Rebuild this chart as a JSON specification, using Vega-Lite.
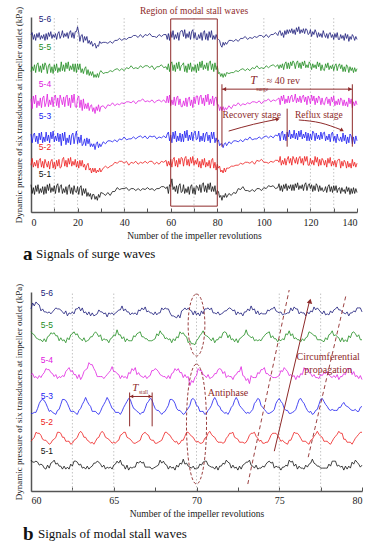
{
"$schema":"https://vega.github.io/schema/vega-lite/v6.json",
"background":"white",
"padding":{"left":14,"top":6,"right":0,"bottom":0},
"config":{"view":{"stroke":null},"font":"Liberation Serif","axis":{"grid":false,"labelFont":"Liberation Serif","titleFont":"Liberation Serif","labelColor":"#222","titleColor":"#222","titleFontWeight":"normal","domainColor":"#555","tickColor":"#555"}},
"datasets":{
"sa":[
{"x":0,"a":28,"b":48,"c":80,"d":116,"e":144,"f":182},
{"x":0.5,"a":19,"b":55,"c":71,"d":106,"e":149,"f":184},
{"x":1,"a":25,"b":46,"c":79,"d":119,"e":145,"f":177},
{"x":1.5,"a":18,"b":51,"c":81,"d":111,"e":151,"f":182},
{"x":2,"a":27,"b":47,"c":72,"d":120,"e":143,"f":176},
{"x":2.5,"a":21,"b":53,"c":78,"d":107,"e":151,"f":183},
{"x":3,"a":28,"b":45,"c":70,"d":114,"e":153,"f":179},
{"x":3.5,"a":19,"b":53,"c":81,"d":109,"e":144,"f":184},
{"x":4,"a":24,"b":55,"c":74,"d":117,"e":150,"f":177},
{"x":4.5,"a":20,"b":46,"c":82,"d":107,"e":143,"f":181},
{"x":5,"a":26,"b":52,"c":71,"d":117,"e":152,"f":178},
{"x":5.5,"a":18,"b":45,"c":77,"d":119,"e":146,"f":182},
{"x":6,"a":26,"b":54,"c":72,"d":108,"e":153,"f":176},
{"x":6.5,"a":19,"b":50,"c":82,"d":112,"e":150,"f":183},
{"x":7,"a":28,"b":46,"c":73,"d":121,"e":142,"f":177},
{"x":7.5,"a":22,"b":52,"c":79,"d":108,"e":150,"f":184},
{"x":8,"a":29,"b":44,"c":71,"d":115,"e":152,"f":180},
{"x":8.5,"a":20,"b":52,"c":82,"d":110,"e":143,"f":185},
{"x":9,"a":25,"b":54,"c":75,"d":118,"e":149,"f":178},
{"x":9.5,"a":21,"b":45,"c":83,"d":108,"e":142,"f":182},
{"x":10,"a":27,"b":51,"c":72,"d":118,"e":151,"f":179},
{"x":10.5,"a":19,"b":44,"c":78,"d":120,"e":145,"f":183},
{"x":11,"a":27,"b":53,"c":73,"d":109,"e":152,"f":177},
{"x":11.5,"a":29,"b":47,"c":81,"d":117,"e":143,"f":183},
{"x":12,"a":20,"b":54,"c":72,"d":107,"e":148,"f":185},
{"x":12.5,"a":26,"b":45,"c":80,"d":120,"e":144,"f":178},
{"x":13,"a":28,"b":46,"c":68,"d":115,"e":154,"f":181},
{"x":13.5,"a":19,"b":54,"c":81,"d":110,"e":145,"f":186},
{"x":14,"a":24,"b":56,"c":73,"d":118,"e":151,"f":179},
{"x":14.5,"a":20,"b":47,"c":82,"d":108,"e":144,"f":183},
{"x":15,"a":26,"b":53,"c":69,"d":118,"e":153,"f":180},
{"x":15.5,"a":18,"b":46,"c":76,"d":120,"e":147,"f":184},
{"x":16,"a":26,"b":55,"c":71,"d":109,"e":154,"f":178},
{"x":16.5,"a":28,"b":49,"c":79,"d":117,"e":145,"f":184},
{"x":17,"a":19,"b":56,"c":69,"d":107,"e":150,"f":186},
{"x":17.5,"a":25,"b":47,"c":79,"d":120,"e":146,"f":179},
{"x":18,"a":18,"b":52,"c":81,"d":112,"e":152,"f":184},
{"x":18.5,"a":27,"b":48,"c":70,"d":121,"e":144,"f":178},
{"x":19,"a":21,"b":54,"c":78,"d":108,"e":152,"f":185},
{"x":19.5,"a":20,"b":46,"c":83,"d":107,"e":143,"f":185},
{"x":20,"a":26,"b":52,"c":70,"d":117,"e":152,"f":190},
{"x":20.5,"a":18,"b":45,"c":77,"d":119,"e":146,"f":184},
{"x":21,"a":25,"b":53,"c":71,"d":107,"e":152,"f":175},
{"x":21.5,"a":27,"b":47,"c":79,"d":115,"e":143,"f":181},
{"x":22,"a":17,"b":53,"c":68,"d":104,"e":147,"f":182},
{"x":22.5,"a":24,"b":46,"c":70,"d":116,"e":142,"f":174},
{"x":23,"a":19,"b":49,"c":75,"d":106,"e":147,"f":180},
{"x":23.5,"a":24,"b":43,"c":68,"d":111,"e":149,"f":176},
{"x":24,"a":16,"b":48,"c":76,"d":106,"e":141,"f":180},
{"x":24.5,"a":20,"b":50,"c":70,"d":112,"e":146,"f":173},
{"x":25,"a":16,"b":43,"c":75,"d":104,"e":140,"f":176},
{"x":25.5,"a":19,"b":45,"c":67,"d":109,"e":144,"f":172},
{"x":26,"a":13,"b":40,"c":70,"d":110,"e":140,"f":175},
{"x":26.5,"a":18,"b":45,"c":67,"d":103,"e":144,"f":170},
{"x":27,"a":18,"b":41,"c":70,"d":107,"e":138,"f":172},
{"x":27.5,"a":13,"b":45,"c":64,"d":101,"e":141,"f":173},
{"x":28,"a":16,"b":40,"c":70,"d":108,"e":138,"f":168},
{"x":28.5,"a":12,"b":43,"c":72,"d":104,"e":142,"f":171},
{"x":29,"a":18,"b":41,"c":66,"d":110,"e":138,"f":170},
{"x":29.5,"a":15,"b":45,"c":70,"d":103,"e":143,"f":175},
{"x":30,"a":20,"b":41,"c":67,"d":108,"e":145,"f":173},
{"x":31,"a":19,"b":45,"c":72,"d":109,"e":142,"f":174},
{"x":32,"a":17,"b":47,"c":70,"d":106,"e":143,"f":174},
{"x":33,"a":20,"b":45,"c":73,"d":110,"e":143,"f":173},
{"x":34,"a":17,"b":47,"c":73,"d":109,"e":145,"f":175},
{"x":35,"a":21,"b":48,"c":72,"d":112,"e":144,"f":173},
{"x":36,"a":21,"b":51,"c":74,"d":109,"e":146,"f":176},
{"x":37,"a":25,"b":50,"c":72,"d":111,"e":147,"f":176},
{"x":38,"a":23,"b":52,"c":75,"d":110,"e":145,"f":178},
{"x":39,"a":24,"b":52,"c":74,"d":112,"e":147,"f":176},
{"x":40,"a":24,"b":50,"c":77,"d":111,"e":145,"f":178},
{"x":41,"a":25,"b":52,"c":74,"d":113,"e":148,"f":177},
{"x":42,"a":22,"b":48,"c":75,"d":113,"e":147,"f":179},
{"x":43,"a":24,"b":51,"c":75,"d":112,"e":150,"f":179},
{"x":44,"a":24,"b":50,"c":77,"d":114,"e":147,"f":181},
{"x":45,"a":22,"b":52,"c":75,"d":111,"e":148,"f":181},
{"x":46,"a":24,"b":49,"c":77,"d":114,"e":147,"f":179},
{"x":47,"a":22,"b":51,"c":78,"d":114,"e":150,"f":182},
{"x":48,"a":24,"b":50,"c":76,"d":116,"e":148,"f":179},
{"x":49,"a":23,"b":52,"c":78,"d":113,"e":150,"f":182},
{"x":50,"a":25,"b":50,"c":75,"d":114,"e":150,"f":181},
{"x":51,"a":23,"b":52,"c":78,"d":113,"e":148,"f":183},
{"x":52,"a":24,"b":52,"c":77,"d":115,"e":150,"f":180},
{"x":53,"a":22,"b":49,"c":78,"d":112,"e":146,"f":180},
{"x":54,"a":24,"b":51,"c":75,"d":114,"e":149,"f":179},
{"x":55,"a":24,"b":49,"c":77,"d":115,"e":149,"f":182},
{"x":56,"a":26,"b":52,"c":76,"d":113,"e":151,"f":180},
{"x":57,"a":26,"b":51,"c":78,"d":115,"e":148,"f":182},
{"x":58,"a":24,"b":53,"c":76,"d":112,"e":149,"f":182},
{"x":58.5,"a":26,"b":47,"c":80,"d":119,"e":146,"f":177},
{"x":59,"a":19,"b":52,"c":82,"d":112,"e":152,"f":183},
{"x":59.5,"a":28,"b":48,"c":73,"d":120,"e":144,"f":176},
{"x":60,"a":26,"b":54,"c":79,"d":109,"e":152,"f":185},
{"x":60.5,"a":34,"b":46,"c":71,"d":115,"e":154,"f":179},
{"x":61,"a":23,"b":54,"c":82,"d":110,"e":145,"f":186},
{"x":61.5,"a":26,"b":56,"c":75,"d":118,"e":151,"f":177},
{"x":62,"a":21,"b":47,"c":83,"d":109,"e":144,"f":182},
{"x":62.5,"a":27,"b":53,"c":72,"d":117,"e":153,"f":178},
{"x":63,"a":19,"b":46,"c":78,"d":119,"e":147,"f":184},
{"x":63.5,"a":27,"b":55,"c":73,"d":110,"e":154,"f":176},
{"x":64,"a":29,"b":49,"c":81,"d":116,"e":145,"f":184},
{"x":64.5,"a":20,"b":56,"c":72,"d":108,"e":150,"f":186},
{"x":65,"a":21,"b":55,"c":80,"d":108,"e":151,"f":186},
{"x":65.5,"a":28,"b":47,"c":72,"d":114,"e":153,"f":180},
{"x":66,"a":19,"b":55,"c":83,"d":109,"e":144,"f":187},
{"x":66.5,"a":24,"b":57,"c":76,"d":117,"e":150,"f":178},
{"x":67,"a":20,"b":48,"c":84,"d":108,"e":143,"f":183},
{"x":67.5,"a":26,"b":54,"c":73,"d":116,"e":152,"f":179},
{"x":68,"a":18,"b":47,"c":79,"d":118,"e":146,"f":185},
{"x":68.5,"a":26,"b":56,"c":74,"d":109,"e":153,"f":177},
{"x":69,"a":28,"b":50,"c":82,"d":115,"e":144,"f":185},
{"x":69.5,"a":19,"b":57,"c":73,"d":107,"e":149,"f":187},
{"x":70,"a":25,"b":48,"c":81,"d":118,"e":145,"f":178},
{"x":70.5,"a":18,"b":53,"c":83,"d":111,"e":151,"f":184},
{"x":71,"a":27,"b":49,"c":74,"d":119,"e":143,"f":177},
{"x":71.5,"a":26,"b":55,"c":75,"d":119,"e":152,"f":177},
{"x":72,"a":22,"b":46,"c":83,"d":110,"e":145,"f":182},
{"x":72.5,"a":28,"b":52,"c":72,"d":118,"e":154,"f":178},
{"x":73,"a":20,"b":45,"c":78,"d":120,"e":148,"f":184},
{"x":73.5,"a":28,"b":54,"c":73,"d":111,"e":155,"f":176},
{"x":74,"a":30,"b":48,"c":81,"d":117,"e":146,"f":184},
{"x":74.5,"a":21,"b":55,"c":72,"d":109,"e":151,"f":186},
{"x":75,"a":27,"b":46,"c":80,"d":120,"e":147,"f":177},
{"x":75.5,"a":20,"b":51,"c":82,"d":113,"e":153,"f":183},
{"x":76,"a":29,"b":47,"c":73,"d":121,"e":145,"f":176},
{"x":76.5,"a":23,"b":53,"c":79,"d":110,"e":153,"f":185},
{"x":77,"a":30,"b":45,"c":71,"d":116,"e":155,"f":179},
{"x":77.5,"a":21,"b":53,"c":82,"d":111,"e":146,"f":186},
{"x":78,"a":26,"b":55,"c":75,"d":119,"e":152,"f":177},
{"x":78.5,"a":21,"b":45,"c":82,"d":109,"e":144,"f":181},
{"x":79,"a":27,"b":51,"c":71,"d":117,"e":153,"f":177},
{"x":79.5,"a":18,"b":43,"c":76,"d":118,"e":146,"f":182},
{"x":80,"a":22,"b":49,"c":72,"d":110,"e":150,"f":178},
{"x":80.5,"a":21,"b":45,"c":74,"d":110,"e":142,"f":177},
{"x":81,"a":15,"b":47,"c":68,"d":104,"e":143,"f":176},
{"x":81.5,"a":17,"b":41,"c":70,"d":108,"e":139,"f":171},
{"x":82,"a":12,"b":43,"c":70,"d":104,"e":142,"f":169},
{"x":82.5,"a":17,"b":40,"c":66,"d":108,"e":138,"f":174},
{"x":83,"a":15,"b":45,"c":70,"d":104,"e":142,"f":171},
{"x":83.5,"a":19,"b":41,"c":71,"d":107,"e":139,"f":174},
{"x":84,"a":15,"b":45,"c":68,"d":105,"e":143,"f":172},
{"x":85,"a":19,"b":45,"c":72,"d":109,"e":142,"f":176},
{"x":86,"a":17,"b":47,"c":70,"d":106,"e":143,"f":176},
{"x":87,"a":20,"b":47,"c":73,"d":110,"e":143,"f":175},
{"x":88,"a":19,"b":48,"c":73,"d":109,"e":145,"f":177},
{"x":89,"a":24,"b":48,"c":72,"d":112,"e":144,"f":175},
{"x":90,"a":23,"b":50,"c":74,"d":109,"e":146,"f":178},
{"x":91,"a":26,"b":49,"c":72,"d":111,"e":147,"f":178},
{"x":92,"a":22,"b":51,"c":75,"d":110,"e":145,"f":180},
{"x":93,"a":22,"b":51,"c":74,"d":112,"e":147,"f":177},
{"x":94,"a":21,"b":50,"c":77,"d":111,"e":145,"f":179},
{"x":95,"a":23,"b":52,"c":74,"d":113,"e":148,"f":178},
{"x":96,"a":21,"b":49,"c":75,"d":113,"e":147,"f":180},
{"x":97,"a":24,"b":53,"c":75,"d":112,"e":150,"f":179},
{"x":98,"a":24,"b":52,"c":77,"d":114,"e":147,"f":181},
{"x":99,"a":22,"b":54,"c":75,"d":111,"e":148,"f":181},
{"x":100,"a":25,"b":51,"c":77,"d":114,"e":147,"f":179},
{"x":101,"a":24,"b":51,"c":78,"d":114,"e":150,"f":182},
{"x":102,"a":27,"b":50,"c":76,"d":116,"e":148,"f":179},
{"x":103,"a":26,"b":52,"c":78,"d":113,"e":150,"f":182},
{"x":104,"a":27,"b":51,"c":76,"d":115,"e":151,"f":182},
{"x":105,"a":24,"b":53,"c":79,"d":114,"e":149,"f":184},
{"x":106,"a":25,"b":53,"c":78,"d":116,"e":151,"f":181},
{"x":106.5,"a":29,"b":51,"c":81,"d":117,"e":147,"f":185},
{"x":107,"a":22,"b":57,"c":73,"d":110,"e":151,"f":186},
{"x":107.5,"a":27,"b":48,"c":81,"d":119,"e":148,"f":181},
{"x":108,"a":21,"b":53,"c":83,"d":114,"e":152,"f":184},
{"x":108.5,"a":28,"b":49,"c":74,"d":120,"e":146,"f":179},
{"x":109,"a":24,"b":55,"c":80,"d":111,"e":152,"f":186},
{"x":109.5,"a":29,"b":48,"c":73,"d":116,"e":154,"f":182},
{"x":110,"a":22,"b":54,"c":82,"d":112,"e":147,"f":187},
{"x":110.5,"a":27,"b":57,"c":77,"d":119,"e":153,"f":183},
{"x":111,"a":24,"b":50,"c":84,"d":112,"e":147,"f":187},
{"x":111.5,"a":28,"b":55,"c":75,"d":118,"e":154,"f":184},
{"x":112,"a":22,"b":48,"c":80,"d":120,"e":150,"f":188},
{"x":112.5,"a":28,"b":57,"c":76,"d":113,"e":155,"f":183},
{"x":113,"a":22,"b":54,"c":84,"d":115,"e":153,"f":187},
{"x":113.5,"a":29,"b":50,"c":75,"d":121,"e":147,"f":182},
{"x":114,"a":25,"b":56,"c":81,"d":112,"e":153,"f":189},
{"x":114.5,"a":30,"b":49,"c":74,"d":117,"e":155,"f":185},
{"x":115,"a":23,"b":55,"c":83,"d":113,"e":148,"f":190},
{"x":115.5,"a":27,"b":57,"c":77,"d":119,"e":153,"f":183},
{"x":116,"a":24,"b":50,"c":84,"d":112,"e":147,"f":187},
{"x":116.5,"a":28,"b":55,"c":75,"d":118,"e":154,"f":184},
{"x":117,"a":22,"b":48,"c":80,"d":120,"e":150,"f":188},
{"x":117.5,"a":28,"b":57,"c":76,"d":113,"e":155,"f":183},
{"x":118,"a":30,"b":52,"c":82,"d":118,"e":148,"f":188},
{"x":118.5,"a":22,"b":57,"c":73,"d":110,"e":151,"f":187},
{"x":119,"a":27,"b":48,"c":81,"d":119,"e":148,"f":182},
{"x":119.5,"a":29,"b":48,"c":73,"d":116,"e":154,"f":183},
{"x":120,"a":24,"b":55,"c":80,"d":111,"e":152,"f":187},
{"x":120.5,"a":28,"b":49,"c":74,"d":120,"e":146,"f":180},
{"x":121,"a":21,"b":53,"c":83,"d":114,"e":152,"f":185},
{"x":121.5,"a":27,"b":48,"c":81,"d":119,"e":148,"f":182},
{"x":122,"a":22,"b":57,"c":73,"d":110,"e":151,"f":187},
{"x":122.5,"a":29,"b":51,"c":81,"d":117,"e":147,"f":184},
{"x":123,"a":27,"b":56,"c":75,"d":112,"e":154,"f":179},
{"x":123.5,"a":21,"b":47,"c":79,"d":119,"e":149,"f":184},
{"x":124,"a":27,"b":54,"c":74,"d":117,"e":153,"f":180},
{"x":124.5,"a":22,"b":48,"c":82,"d":110,"e":145,"f":183},
{"x":125,"a":25,"b":55,"c":75,"d":117,"e":151,"f":179},
{"x":125.5,"a":21,"b":53,"c":81,"d":111,"e":146,"f":186},
{"x":126,"a":22,"b":48,"c":82,"d":110,"e":145,"f":182},
{"x":126.5,"a":26,"b":53,"c":73,"d":116,"e":152,"f":179},
{"x":127,"a":20,"b":46,"c":78,"d":118,"e":148,"f":183},
{"x":127.5,"a":26,"b":55,"c":74,"d":111,"e":153,"f":178},
{"x":128,"a":28,"b":50,"c":80,"d":116,"e":146,"f":183},
{"x":128.5,"a":21,"b":56,"c":72,"d":109,"e":150,"f":184},
{"x":129,"a":26,"b":47,"c":80,"d":118,"e":147,"f":179},
{"x":129.5,"a":20,"b":52,"c":82,"d":113,"e":151,"f":182},
{"x":130,"a":27,"b":48,"c":73,"d":119,"e":145,"f":177},
{"x":130.5,"a":22,"b":53,"c":78,"d":109,"e":150,"f":183},
{"x":131,"a":27,"b":46,"c":71,"d":114,"e":152,"f":179},
{"x":131.5,"a":20,"b":52,"c":80,"d":110,"e":145,"f":184},
{"x":132,"a":24,"b":54,"c":74,"d":116,"e":150,"f":177},
{"x":132.5,"a":25,"b":54,"c":73,"d":110,"e":152,"f":177},
{"x":133,"a":19,"b":45,"c":77,"d":117,"e":147,"f":182},
{"x":133.5,"a":25,"b":52,"c":72,"d":115,"e":151,"f":178},
{"x":134,"a":21,"b":47,"c":81,"d":109,"e":144,"f":181},
{"x":134.5,"a":23,"b":53,"c":73,"d":115,"e":149,"f":176},
{"x":135,"a":19,"b":51,"c":79,"d":109,"e":144,"f":183},
{"x":135.5,"a":26,"b":45,"c":70,"d":113,"e":151,"f":178},
{"x":136,"a":21,"b":52,"c":77,"d":108,"e":149,"f":182},
{"x":136.5,"a":25,"b":46,"c":71,"d":117,"e":143,"f":175},
{"x":137,"a":18,"b":50,"c":80,"d":111,"e":149,"f":180},
{"x":137.5,"a":24,"b":45,"c":78,"d":116,"e":145,"f":177},
{"x":138,"a":19,"b":54,"c":70,"d":107,"e":148,"f":182},
{"x":138.5,"a":25,"b":47,"c":77,"d":113,"e":143,"f":180},
{"x":139,"a":19,"b":51,"c":70,"d":109,"e":148,"f":176},
{"x":139.5,"a":24,"b":46,"c":78,"d":114,"e":144,"f":180},
{"x":140,"a":20,"b":50,"c":73,"d":110,"e":147,"f":177}
],
"sb":[
{"x":60.0,"a":31,"b":50,"c":78,"d":117,"e":160,"f":183},
{"x":60.1,"a":29,"b":52,"c":78,"d":118,"e":158,"f":189},
{"x":60.2,"a":29,"b":54,"c":79,"d":114,"e":157,"f":186},
{"x":60.3,"a":30,"b":59,"c":79,"d":115,"e":154,"f":190},
{"x":60.4,"a":29,"b":58,"c":83,"d":113,"e":153,"f":188},
{"x":60.5,"a":26,"b":58,"c":88,"d":116,"e":152,"f":187},
{"x":60.6,"a":27,"b":56,"c":91,"d":114,"e":152,"f":181},
{"x":60.7,"a":26,"b":52,"c":92,"d":117,"e":150,"f":183},
{"x":60.8,"a":23,"b":51,"c":91,"d":119,"e":153,"f":180},
{"x":60.9,"a":22,"b":51,"c":88,"d":123,"e":150,"f":180},
{"x":61.0,"a":26,"b":49,"c":84,"d":122,"e":155,"f":179},
{"x":61.1,"a":23,"b":47,"c":80,"d":122,"e":156,"f":180},
{"x":61.2,"a":28,"b":48,"c":81,"d":119,"e":159,"f":178},
{"x":61.3,"a":29,"b":51,"c":79,"d":118,"e":158,"f":180},
{"x":61.4,"a":31,"b":52,"c":78,"d":115,"e":159,"f":182},
{"x":61.5,"a":27,"b":54,"c":77,"d":117,"e":156,"f":184},
{"x":61.6,"a":28,"b":59,"c":81,"d":113,"e":156,"f":183},
{"x":61.7,"a":25,"b":59,"c":82,"d":115,"e":151,"f":183},
{"x":61.8,"a":25,"b":58,"c":87,"d":114,"e":154,"f":182},
{"x":61.9,"a":22,"b":54,"c":92,"d":116,"e":151,"f":180},
{"x":62.0,"a":25,"b":54,"c":92,"d":115,"e":152,"f":178},
{"x":62.1,"a":22,"b":50,"c":91,"d":120,"e":149,"f":181},
{"x":62.2,"a":24,"b":50,"c":88,"d":122,"e":154,"f":176},
{"x":62.3,"a":22,"b":50,"c":84,"d":124,"e":152,"f":179},
{"x":62.4,"a":27,"b":47,"c":80,"d":120,"e":157,"f":178},
{"x":62.5,"a":25,"b":48,"c":80,"d":121,"e":158,"f":180},
{"x":62.6,"a":30,"b":51,"c":80,"d":117,"e":160,"f":178},
{"x":62.7,"a":30,"b":52,"c":78,"d":117,"e":157,"f":183},
{"x":62.8,"a":29,"b":54,"c":77,"d":113,"e":158,"f":183},
{"x":62.9,"a":26,"b":58,"c":81,"d":117,"e":154,"f":185},
{"x":63.0,"a":27,"b":60,"c":83,"d":112,"e":153,"f":181},
{"x":63.1,"a":23,"b":58,"c":87,"d":115,"e":151,"f":184},
{"x":63.2,"a":24,"b":54,"c":90,"d":120,"e":154,"f":179},
{"x":63.3,"a":22,"b":54,"c":94,"d":122,"e":150,"f":180},
{"x":63.4,"a":25,"b":51,"c":90,"d":123,"e":151,"f":177},
{"x":63.5,"a":22,"b":50,"c":87,"d":129,"e":152,"f":180},
{"x":63.6,"a":24,"b":48,"c":85,"d":127,"e":155,"f":176},
{"x":63.7,"a":25,"b":49,"c":80,"d":127,"e":155,"f":179},
{"x":63.8,"a":28,"b":47,"c":80,"d":123,"e":158,"f":176},
{"x":63.9,"a":28,"b":50,"c":80,"d":120,"e":160,"f":177},
{"x":64.0,"a":30,"b":53,"c":78,"d":115,"e":158,"f":178},
{"x":64.1,"a":29,"b":54,"c":77,"d":115,"e":155,"f":182},
{"x":64.2,"a":27,"b":58,"c":80,"d":115,"e":157,"f":180},
{"x":64.3,"a":24,"b":60,"c":84,"d":115,"e":151,"f":180},
{"x":64.4,"a":26,"b":58,"c":87,"d":113,"e":153,"f":178},
{"x":64.5,"a":22,"b":54,"c":90,"d":115,"e":152,"f":179},
{"x":64.6,"a":24,"b":53,"c":94,"d":117,"e":152,"f":175},
{"x":64.7,"a":23,"b":52,"c":91,"d":119,"e":149,"f":179},
{"x":64.8,"a":24,"b":50,"c":87,"d":121,"e":153,"f":178},
{"x":64.9,"a":22,"b":48,"c":83,"d":125,"e":154,"f":179},
{"x":65.0,"a":26,"b":49,"c":82,"d":120,"e":157,"f":177},
{"x":65.1,"a":27,"b":48,"c":79,"d":120,"e":156,"f":179},
{"x":65.2,"a":30,"b":50,"c":79,"d":118,"e":162,"f":180},
{"x":65.3,"a":28,"b":51,"c":79,"d":117,"e":157,"f":182},
{"x":65.4,"a":31,"b":56,"c":77,"d":113,"e":157,"f":182},
{"x":65.5,"a":26,"b":57,"c":80,"d":116,"e":153,"f":186},
{"x":65.6,"a":26,"b":59,"c":84,"d":114,"e":155,"f":181},
{"x":65.7,"a":22,"b":59,"c":87,"d":115,"e":150,"f":183},
{"x":65.8,"a":26,"b":54,"c":90,"d":113,"e":153,"f":180},
{"x":65.9,"a":21,"b":53,"c":93,"d":119,"e":151,"f":180},
{"x":66.0,"a":24,"b":52,"c":92,"d":118,"e":151,"f":177},
{"x":66.1,"a":23,"b":50,"c":87,"d":123,"e":151,"f":179},
{"x":66.2,"a":24,"b":48,"c":83,"d":121,"e":156,"f":178},
{"x":66.3,"a":24,"b":48,"c":82,"d":124,"e":155,"f":179},
{"x":66.4,"a":29,"b":49,"c":80,"d":117,"e":158,"f":177},
{"x":66.5,"a":28,"b":50,"c":79,"d":119,"e":159,"f":182},
{"x":66.6,"a":30,"b":51,"c":77,"d":116,"e":160,"f":181},
{"x":66.7,"a":28,"b":56,"c":79,"d":115,"e":155,"f":184},
{"x":66.8,"a":29,"b":58,"c":79,"d":114,"e":155,"f":182},
{"x":66.9,"a":24,"b":59,"c":83,"d":116,"e":153,"f":185},
{"x":67.0,"a":24,"b":57,"c":88,"d":113,"e":153,"f":180},
{"x":67.1,"a":24,"b":56,"c":90,"d":115,"e":151,"f":181},
{"x":67.2,"a":24,"b":52,"c":93,"d":116,"e":151,"f":179},
{"x":67.3,"a":22,"b":51,"c":92,"d":121,"e":151,"f":179},
{"x":67.4,"a":23,"b":51,"c":87,"d":121,"e":152,"f":177},
{"x":67.5,"a":24,"b":48,"c":83,"d":123,"e":153,"f":180},
{"x":67.6,"a":25,"b":48,"c":81,"d":122,"e":158,"f":177},
{"x":67.7,"a":26,"b":49,"c":81,"d":120,"e":156,"f":179},
{"x":67.8,"a":31,"b":50,"c":79,"d":117,"e":161,"f":179},
{"x":67.9,"a":28,"b":51,"c":77,"d":116,"e":158,"f":184},
{"x":68.0,"a":30,"b":55,"c":79,"d":115,"e":157,"f":182},
{"x":68.1,"a":27,"b":59,"c":80,"d":115,"e":153,"f":184},
{"x":68.2,"a":26,"b":59,"c":83,"d":113,"e":154,"f":183},
{"x":68.3,"a":22,"b":57,"c":86,"d":116,"e":152,"f":183},
{"x":68.4,"a":25,"b":56,"c":92,"d":113,"e":153,"f":179},
{"x":68.5,"a":23,"b":53,"c":92,"d":118,"e":149,"f":176},
{"x":68.6,"a":24,"b":51,"c":91,"d":119,"e":153,"f":176},
{"x":68.7,"a":21,"b":49,"c":88,"d":123,"e":151,"f":175},
{"x":68.8,"a":26,"b":50,"c":83,"d":121,"e":155,"f":174},
{"x":68.9,"a":24,"b":47,"c":81,"d":123,"e":154,"f":177},
{"x":69.0,"a":28,"b":48,"c":81,"d":119,"e":160,"f":174},
{"x":69.1,"a":27,"b":51,"c":79,"d":119,"e":158,"f":181},
{"x":69.2,"a":32,"b":51,"c":77,"d":114,"e":159,"f":182},
{"x":69.3,"a":27,"b":55,"c":78,"d":117,"e":156,"f":184},
{"x":69.4,"a":28,"b":59,"c":81,"d":114,"e":155,"f":182},
{"x":69.5,"a":25,"b":59,"c":83,"d":115,"e":149,"f":184},
{"x":69.6,"a":24,"b":57,"c":86,"d":106,"e":151,"f":182},
{"x":69.7,"a":23,"b":55,"c":92,"d":111,"e":148,"f":181},
{"x":69.8,"a":25,"b":54,"c":93,"d":109,"e":148,"f":177},
{"x":69.9,"a":22,"b":51,"c":91,"d":114,"e":147,"f":181},
{"x":70.0,"a":23,"b":49,"c":86,"d":116,"e":151,"f":177},
{"x":70.1,"a":23,"b":50,"c":85,"d":123,"e":153,"f":179},
{"x":70.2,"a":27,"b":48,"c":80,"d":121,"e":156,"f":176},
{"x":70.3,"a":26,"b":48,"c":80,"d":121,"e":158,"f":181},
{"x":70.4,"a":29,"b":49,"c":80,"d":117,"e":161,"f":178},
{"x":70.5,"a":30,"b":53,"c":77,"d":116,"e":157,"f":183},
{"x":70.6,"a":30,"b":54,"c":78,"d":114,"e":156,"f":183},
{"x":70.7,"a":26,"b":58,"c":81,"d":117,"e":155,"f":184},
{"x":70.8,"a":25,"b":60,"c":83,"d":113,"e":153,"f":182},
{"x":70.9,"a":24,"b":57,"c":86,"d":114,"e":151,"f":184},
{"x":71.0,"a":24,"b":55,"c":91,"d":115,"e":154,"f":179},
{"x":71.1,"a":22,"b":54,"c":94,"d":118,"e":149,"f":179},
{"x":71.2,"a":25,"b":51,"c":91,"d":118,"e":152,"f":178},
{"x":71.3,"a":21,"b":49,"c":86,"d":122,"e":152,"f":180},
{"x":71.4,"a":25,"b":49,"c":85,"d":123,"e":155,"f":177},
{"x":71.5,"a":25,"b":49,"c":81,"d":122,"e":154,"f":178},
{"x":71.6,"a":28,"b":48,"c":80,"d":118,"e":159,"f":179},
{"x":71.7,"a":27,"b":49,"c":78,"d":120,"e":160,"f":181},
{"x":71.8,"a":31,"b":53,"c":79,"d":114,"e":159,"f":181},
{"x":71.9,"a":29,"b":55,"c":77,"d":116,"e":154,"f":183},
{"x":72.0,"a":28,"b":58,"c":80,"d":115,"e":157,"f":184},
{"x":72.1,"a":23,"b":58,"c":84,"d":115,"e":152,"f":183},
{"x":72.2,"a":26,"b":59,"c":86,"d":112,"e":153,"f":181},
{"x":72.3,"a":23,"b":54,"c":91,"d":116,"e":150,"f":182},
{"x":72.4,"a":24,"b":53,"c":94,"d":117,"e":153,"f":177},
{"x":72.5,"a":21,"b":52,"c":91,"d":120,"e":149,"f":180},
{"x":72.6,"a":25,"b":49,"c":86,"d":120,"e":153,"f":178},
{"x":72.7,"a":22,"b":49,"c":84,"d":125,"e":154,"f":179},
{"x":72.8,"a":26,"b":49,"c":82,"d":116,"e":156,"f":176},
{"x":72.9,"a":27,"b":48,"c":80,"d":115,"e":157,"f":180},
{"x":73.0,"a":29,"b":49,"c":78,"d":111,"e":162,"f":180},
{"x":73.1,"a":29,"b":52,"c":79,"d":113,"e":157,"f":183},
{"x":73.2,"a":31,"b":56,"c":78,"d":108,"e":156,"f":181},
{"x":73.3,"a":26,"b":58,"c":80,"d":116,"e":154,"f":186},
{"x":73.4,"a":25,"b":58,"c":82,"d":114,"e":155,"f":182},
{"x":73.5,"a":23,"b":59,"c":88,"d":114,"e":151,"f":183},
{"x":73.6,"a":26,"b":55,"c":90,"d":114,"e":152,"f":178},
{"x":73.7,"a":22,"b":53,"c":93,"d":119,"e":151,"f":181},
{"x":73.8,"a":23,"b":50,"c":92,"d":118,"e":152,"f":177},
{"x":73.9,"a":23,"b":51,"c":86,"d":122,"e":151,"f":179},
{"x":74.0,"a":25,"b":48,"c":84,"d":122,"e":154,"f":178},
{"x":74.1,"a":24,"b":48,"c":82,"d":124,"e":156,"f":178},
{"x":74.2,"a":27,"b":49,"c":80,"d":118,"e":158,"f":178},
{"x":74.3,"a":29,"b":49,"c":78,"d":118,"e":159,"f":182},
{"x":74.4,"a":30,"b":52,"c":78,"d":116,"e":160,"f":181},
{"x":74.5,"a":28,"b":56,"c":79,"d":116,"e":154,"f":183},
{"x":74.6,"a":29,"b":58,"c":80,"d":114,"e":156,"f":183},
{"x":74.7,"a":23,"b":58,"c":82,"d":114,"e":153,"f":185},
{"x":74.8,"a":25,"b":58,"c":88,"d":114,"e":153,"f":181},
{"x":74.9,"a":24,"b":56,"c":91,"d":115,"e":150,"f":180},
{"x":75.0,"a":24,"b":53,"c":93,"d":116,"e":152,"f":179},
{"x":75.1,"a":21,"b":50,"c":90,"d":121,"e":151,"f":180},
{"x":75.2,"a":24,"b":51,"c":88,"d":120,"e":153,"f":177},
{"x":75.3,"a":24,"b":49,"c":83,"d":124,"e":152,"f":178},
{"x":75.4,"a":26,"b":48,"c":81,"d":122,"e":158,"f":178},
{"x":75.5,"a":25,"b":47,"c":81,"d":120,"e":157,"f":179},
{"x":75.6,"a":31,"b":51,"c":78,"d":116,"e":161,"f":179},
{"x":75.7,"a":29,"b":51,"c":78,"d":117,"e":156,"f":184},
{"x":75.8,"a":30,"b":55,"c":79,"d":115,"e":158,"f":181},
{"x":75.9,"a":25,"b":59,"c":80,"d":116,"e":153,"f":185},
{"x":76.0,"a":27,"b":58,"c":82,"d":112,"e":154,"f":183},
{"x":76.1,"a":22,"b":58,"c":87,"d":116,"e":152,"f":183},
{"x":76.2,"a":25,"b":56,"c":92,"d":114,"e":152,"f":178},
{"x":76.3,"a":23,"b":53,"c":93,"d":118,"e":150,"f":180},
{"x":76.4,"a":23,"b":50,"c":90,"d":117,"e":153,"f":179},
{"x":76.5,"a":22,"b":50,"c":88,"d":124,"e":151,"f":179},
{"x":76.6,"a":26,"b":50,"c":84,"d":121,"e":154,"f":176},
{"x":76.7,"a":24,"b":48,"c":81,"d":123,"e":155,"f":180},
{"x":76.8,"a":27,"b":47,"c":79,"d":119,"e":160,"f":178},
{"x":76.9,"a":28,"b":51,"c":80,"d":118,"e":159,"f":181},
{"x":77.0,"a":32,"b":52,"c":77,"d":115,"e":158,"f":180},
{"x":77.1,"a":28,"b":55,"c":78,"d":117,"e":156,"f":185},
{"x":77.2,"a":27,"b":57,"c":81,"d":114,"e":156,"f":182},
{"x":77.3,"a":25,"b":60,"c":82,"d":114,"e":152,"f":184},
{"x":77.4,"a":25,"b":57,"c":87,"d":113,"e":152,"f":182},
{"x":77.5,"a":23,"b":55,"c":92,"d":117,"e":152,"f":180},
{"x":77.6,"a":23,"b":54,"c":93,"d":116,"e":151,"f":178},
{"x":77.7,"a":23,"b":50,"c":90,"d":119,"e":150,"f":181},
{"x":77.8,"a":23,"b":50,"c":87,"d":118,"e":154,"f":177},
{"x":77.9,"a":23,"b":50,"c":85,"d":120,"e":152,"f":178},
{"x":78.0,"a":27,"b":48,"c":82,"d":117,"e":157,"f":177},
{"x":78.1,"a":25,"b":47,"c":81,"d":115,"e":158,"f":181},
{"x":78.2,"a":30,"b":50,"c":82,"d":114,"e":161,"f":179},
{"x":78.3,"a":30,"b":53,"c":81,"d":116,"e":156,"f":182},
{"x":78.4,"a":30,"b":55,"c":81,"d":114,"e":157,"f":183},
{"x":78.5,"a":25,"b":57,"c":81,"d":117,"e":155,"f":185},
{"x":78.6,"a":26,"b":60,"c":84,"d":112,"e":154,"f":182},
{"x":78.7,"a":24,"b":58,"c":84,"d":115,"e":150,"f":182},
{"x":78.8,"a":25,"b":58,"c":87,"d":115,"e":154,"f":180},
{"x":78.9,"a":21,"b":52,"c":89,"d":118,"e":150,"f":179},
{"x":79.0,"a":25,"b":52,"c":86,"d":117,"e":152,"f":178},
{"x":79.1,"a":22,"b":49,"c":85,"d":123,"e":150,"f":180},
{"x":79.2,"a":25,"b":49,"c":84,"d":123,"e":156,"f":176},
{"x":79.3,"a":23,"b":49,"c":82,"d":123,"e":154,"f":179},
{"x":79.4,"a":29,"b":47,"c":81,"d":117,"e":159,"f":179},
{"x":79.5,"a":27,"b":50,"c":81,"d":120,"e":160,"f":181},
{"x":79.6,"a":31,"b":53,"c":82,"d":115,"e":158,"f":180},
{"x":79.7,"a":29,"b":55,"c":80,"d":116,"e":155,"f":184},
{"x":79.8,"a":27,"b":57,"c":80,"d":113,"e":157,"f":184},
{"x":79.9,"a":24,"b":59,"c":84,"d":116,"e":152,"f":184},
{"x":80.0,"a":26,"b":59,"c":85,"d":112,"e":152,"f":180}
]
},
"spacing":80,
"bounds":"flush",
"vconcat":[
{
"width":326,"height":195,
"encoding":{
"x":{"field":"x","type":"quantitative","scale":{"domain":[0,140],"nice":false},"axis":{"values":[0,10,20,30,40,50,60,70,80,90,100,110,120,130,140],"labelExpr":"datum.value % 20 === 0 ? datum.label : ''","title":"Number of the impeller revolutions","tickSize":-4,"labelPadding":9,"labelFontSize":10,"titleFontSize":9.5,"titlePadding":3,"domainWidth":1.5}},
"y":{"field":"y","type":"quantitative","scale":{"domain":[0,200],"nice":false},"axis":{"labels":false,"ticks":false,"title":"Dynamic pressure of six transducers at impeller outlet (kPa)","titleFontSize":9,"titlePadding":8,"domainWidth":1.5}}
},
"layer":[
{"data":{"values":[{"x":10,"y":0,"y2":200},{"x":20,"y":0,"y2":200},{"x":40,"y":0,"y2":200},{"x":70,"y":0,"y2":200},{"x":100,"y":0,"y2":200},{"x":120,"y":0,"y2":200},{"x":130,"y":0,"y2":200}]},
 "mark":{"type":"rule","color":"#b5b5b5","strokeDash":[1.5,2],"strokeWidth":0.8},"encoding":{"y2":{"field":"y2"}}},
{"data":{"name":"sa"},"transform":[{"fold":["a","b","c","d","e","f"],"as":["s","y"]}],
 "mark":{"type":"line","strokeWidth":0.8},
 "encoding":{"color":{"field":"s","type":"nominal","scale":{"domain":["a","b","c","d","e","f"],"range":["#111111","#ee1c1c","#1c1cf0","#e020e0","#1e8c1e","#1a1a7a"]},"legend":null}}},
{"data":{"values":[{"x":60,"x2":80,"y":6,"y2":198}]},"mark":{"type":"rect","filled":false,"stroke":"#8e2a2a","strokeWidth":1},"encoding":{"x2":{"field":"x2"},"y2":{"field":"y2"}}},
{"data":{"values":[{"x":82,"y":126,"x2":138,"y2":126},{"x":82,"y":131,"x2":82,"y2":67},{"x":138,"y":131,"x2":138,"y2":67},{"x":110,"y":106,"x2":110,"y2":67}]},
 "mark":{"type":"rule","color":"#8e2a2a","strokeWidth":1},"encoding":{"x2":{"field":"x2"},"y2":{"field":"y2"}}},
{"data":{"values":[{"x":83,"y":126}]},"mark":{"type":"point","shape":"triangle-left","filled":true,"size":18,"color":"#8e2a2a","opacity":1}},
{"data":{"values":[{"x":137,"y":126}]},"mark":{"type":"point","shape":"triangle-right","filled":true,"size":18,"color":"#8e2a2a","opacity":1}},
{"data":{"values":[{"id":"r","x":84.9,"y":83},{"id":"r","x":95.6,"y":90},{"id":"r","x":105.5,"y":95},{"id":"f","x":115,"y":94.4},{"id":"f","x":124.5,"y":91.3},{"id":"f","x":133,"y":84.5}]},
 "mark":{"type":"line","interpolate":"monotone","color":"#8e2a2a","strokeWidth":1},"encoding":{"detail":{"field":"id"}}},
{"data":{"values":[{"x":106,"y":95.3}]},"mark":{"type":"point","shape":"triangle-right","filled":true,"size":18,"angle":-12,"color":"#8e2a2a","opacity":1}},
{"data":{"values":[{"x":133.6,"y":83.8}]},"mark":{"type":"point","shape":"triangle-right","filled":true,"size":18,"angle":30,"color":"#8e2a2a","opacity":1}},
{"data":{"values":[{"x":70,"y":206,"t":"Region of modal stall waves"},{"x":94.8,"y":99.5,"t":"Recovery stage"},{"x":123.6,"y":99.5,"t":"Reflux stage"}]},
 "mark":{"type":"text","font":"Liberation Serif","fontSize":9.5,"color":"#8e2a2a"},"encoding":{"text":{"field":"t"}}},
{"data":{"values":[{"x":95.6,"y":135,"t":"T"}]},"mark":{"type":"text","font":"Liberation Serif","fontSize":12,"fontStyle":"italic","color":"#8e2a2a"},"encoding":{"text":{"field":"t"}}},
{"data":{"values":[{"x":99.3,"y":126,"t":"surge"}]},"mark":{"type":"text","font":"Liberation Serif","fontSize":5.5,"color":"#8e2a2a"},"encoding":{"text":{"field":"t"}}},
{"data":{"values":[{"x":101.2,"y":134,"t":"≈ 40 rev"}]},"mark":{"type":"text","font":"Liberation Serif","fontSize":10,"align":"left","color":"#8e2a2a"},"encoding":{"text":{"field":"t"}}},
{"data":{"values":[{"s":"f","t":"5-6","x":6,"y":198},{"s":"e","t":"5-5","x":6,"y":169},{"s":"d","t":"5-4","x":6,"y":131},{"s":"c","t":"5-3","x":6,"y":98},{"s":"b","t":"5-2","x":6,"y":67},{"s":"a","t":"5-1","x":6,"y":39}]},
 "mark":{"type":"text","font":"Liberation Sans","fontSize":8.5},"encoding":{"text":{"field":"t"},"color":{"field":"s","type":"nominal","legend":null}}},
{"data":{"values":[{"x":-3.4,"y":-43,"t":"a"}]},"mark":{"type":"text","font":"Liberation Serif","fontSize":19,"fontWeight":"bold","align":"left","color":"#111"},"encoding":{"text":{"field":"t"}}},
{"data":{"values":[{"x":2.2,"y":-43,"t":"Signals of surge waves"}]},"mark":{"type":"text","font":"Liberation Serif","fontSize":13,"align":"left","color":"#111"},"encoding":{"text":{"field":"t"}}}
]
},
{
"width":331,"height":199,
"encoding":{
"x":{"field":"x","type":"quantitative","scale":{"domain":[60,80],"nice":false},"axis":{"values":[60,62.5,65,67.5,70,72.5,75,77.5,80],"labelExpr":"datum.value % 5 === 0 ? datum.label : ''","title":"Number of the impeller revolutions","tickSize":-4,"labelPadding":8,"labelFontSize":10,"titleFontSize":9.5,"titlePadding":3,"domainWidth":1.5}},
"y":{"field":"y","type":"quantitative","scale":{"domain":[0,200],"nice":false},"axis":{"labels":false,"ticks":false,"title":"Dynamic pressure of six transducers at impeller outlet (kPa)","titleFontSize":9,"titlePadding":8,"domainWidth":1.5}}
},
"layer":[
{"data":{"values":[{"x":62.5,"y":0,"y2":200},{"x":65,"y":0,"y2":200},{"x":70,"y":0,"y2":200},{"x":75,"y":0,"y2":200},{"x":77.5,"y":0,"y2":200}]},
 "mark":{"type":"rule","color":"#b5b5b5","strokeDash":[1.5,2],"strokeWidth":0.8},"encoding":{"y2":{"field":"y2"}}},
{"data":{"name":"sb"},"transform":[{"fold":["a","b","c","d","e","f"],"as":["s","y"]}],
 "mark":{"type":"line","strokeWidth":0.8},
 "encoding":{"color":{"field":"s","type":"nominal","scale":{"domain":["a","b","c","d","e","f"],"range":["#111111","#ee1c1c","#1c1cf0","#e020e0","#1e8c1e","#1a1a7a"]},"legend":null}}},
{"data":{"values":[{"x":70,"y":166.8}]},"mark":{"type":"point","shape":"M0,-1 C0.149,-1 0.27,-0.552 0.27,0 C0.27,0.552 0.149,1 0,1 C-0.149,1 -0.27,0.552 -0.27,0 C-0.27,-0.552 -0.149,-1 0,-1 Z","size":3844,"filled":false,"stroke":"#8e2a2a","strokeWidth":0.9,"strokeDash":[3,2],"opacity":1}},
{"data":{"values":[{"x":70,"y":67.3}]},"mark":{"type":"point","shape":"M0,-1 C0.092,-1 0.167,-0.552 0.167,0 C0.167,0.552 0.092,1 0,1 C-0.092,1 -0.167,0.552 -0.167,0 C-0.167,-0.552 -0.092,-1 0,-1 Z","size":14400,"filled":false,"stroke":"#8e2a2a","strokeWidth":0.9,"strokeDash":[3,2],"opacity":1}},
{"data":{"values":[{"x":73.1,"y":7,"x2":75.6,"y2":202},{"x":76.75,"y":34,"x2":79.05,"y2":198}]},
 "mark":{"type":"rule","color":"#8e2a2a","strokeWidth":0.9,"strokeDash":[4,3]},"encoding":{"x2":{"field":"x2"},"y2":{"field":"y2"}}},
{"data":{"values":[{"x":74.7,"y":40,"x2":76.8,"y2":189},{"x":65.96,"y":99,"x2":65.96,"y2":65},{"x":67.32,"y":99,"x2":67.32,"y2":65},{"x":65.96,"y":95,"x2":67.32,"y2":95}]},
 "mark":{"type":"rule","color":"#8e2a2a","strokeWidth":1},"encoding":{"x2":{"field":"x2"},"y2":{"field":"y2"}}},
{"data":{"values":[{"x":76.86,"y":191}]},"mark":{"type":"point","shape":"triangle-up","filled":true,"size":30,"angle":13,"color":"#8e2a2a","opacity":1}},
{"data":{"values":[{"x":66.08,"y":95}]},"mark":{"type":"point","shape":"triangle-left","filled":true,"size":14,"color":"#8e2a2a","opacity":1}},
{"data":{"values":[{"x":67.2,"y":95}]},"mark":{"type":"point","shape":"triangle-right","filled":true,"size":14,"color":"#8e2a2a","opacity":1}},
{"data":{"values":[{"x":71.9,"y":98,"t":"Antiphase"},{"x":77.96,"y":134.5,"t":"Circumferential"},{"x":77.96,"y":122,"t":"propagation"}]},
 "mark":{"type":"text","font":"Liberation Serif","fontSize":10,"color":"#8e2a2a"},"encoding":{"text":{"field":"t"}}},
{"data":{"values":[{"x":66.3,"y":104,"t":"T"}]},"mark":{"type":"text","font":"Liberation Serif","fontSize":11,"fontStyle":"italic","color":"#8e2a2a"},"encoding":{"text":{"field":"t"}}},
{"data":{"values":[{"x":66.8,"y":100,"t":"stall"}]},"mark":{"type":"text","font":"Liberation Serif","fontSize":5.5,"color":"#8e2a2a"},"encoding":{"text":{"field":"t"}}},
{"data":{"values":[{"s":"f","t":"5-6","x":60.96,"y":199},{"s":"e","t":"5-5","x":60.96,"y":167},{"s":"d","t":"5-4","x":60.96,"y":132},{"s":"c","t":"5-3","x":60.96,"y":95},{"s":"b","t":"5-2","x":60.96,"y":69},{"s":"a","t":"5-1","x":60.96,"y":40}]},
 "mark":{"type":"text","font":"Liberation Sans","fontSize":8.5},"encoding":{"text":{"field":"t"},"color":{"field":"s","type":"nominal","legend":null}}},
{"data":{"values":[{"x":59.52,"y":-43,"t":"b"}]},"mark":{"type":"text","font":"Liberation Serif","fontSize":19,"fontWeight":"bold","align":"left","color":"#111"},"encoding":{"text":{"field":"t"}}},
{"data":{"values":[{"x":60.42,"y":-43,"t":"Signals of modal stall waves"}]},"mark":{"type":"text","font":"Liberation Serif","fontSize":13,"align":"left","color":"#111"},"encoding":{"text":{"field":"t"}}}
]
}
]
}
